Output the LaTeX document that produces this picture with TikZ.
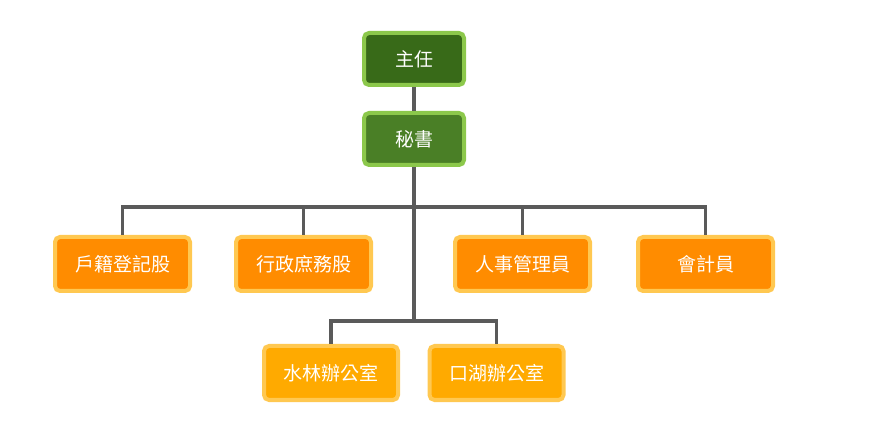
\documentclass[tikz,border=0pt]{standalone}
\usepackage{fontspec}
\setmainfont{Noto Sans CJK TC}
\definecolor{gruenA}{HTML}{386A18}
\definecolor{gruenB}{HTML}{4A7F26}
\definecolor{gruenRand}{HTML}{8CC84B}
\definecolor{orangeA}{HTML}{FF8C00}
\definecolor{orangeB}{HTML}{FFAA00}
\definecolor{orangeRand}{HTML}{FFC851}
\definecolor{linie}{HTML}{5A5A5A}
\tikzset{
  kasten/.style={rounded corners=5pt, line width=4pt, text=white,
    font=\fontsize{19}{21}\selectfont, inner sep=0pt},
  leitung/.style={kasten, draw=gruenRand, minimum width=100pt, minimum height=52pt},
  abteil/.style={kasten, draw=orangeRand, fill=orangeA, minimum width=135pt, minimum height=54pt},
  buero/.style={kasten, draw=orangeRand, fill=orangeB, minimum width=134pt, minimum height=54pt},
  verb/.style={draw=linie, line width=3.5pt}
}
\begin{document}
\begin{tikzpicture}[x=1pt, y=-1pt]
  % Rahmen
  \useasboundingbox (0,0) rectangle (870,435);
  % Leitung
  \node[leitung, fill=gruenA] (chef) at (414,59) {主任};
  \node[leitung, fill=gruenB] (sek) at (414,139) {秘書};
  % Abteilungen
  \node[abteil] (hr) at (122.5,264) {戶籍登記股};
  \node[abteil] (vw) at (303.5,264) {行政庶務股};
  \node[abteil] (ps) at (522.5,264) {人事管理員};
  \node[abteil] (rw) at (705.5,264) {會計員};
  % Buero
  \node[buero] (sl) at (331,373) {水林辦公室};
  \node[buero] (kh) at (496.5,373) {口湖辦公室};
  % Verbindungen
  \coordinate (v1) at (414,207);
  \coordinate (v2) at (414,321);
  \draw[verb] (chef) -- (sek);
  \draw[verb] (sek) -- (v2);
  \draw[verb] (v1) -| (hr);
  \draw[verb] (v1) -| (vw);
  \draw[verb] (v1) -| (ps);
  \draw[verb] (v1) -| (rw);
  \draw[verb] (v2) -| (sl);
  \draw[verb] (v2) -| (kh);
\end{tikzpicture}
\end{document}
